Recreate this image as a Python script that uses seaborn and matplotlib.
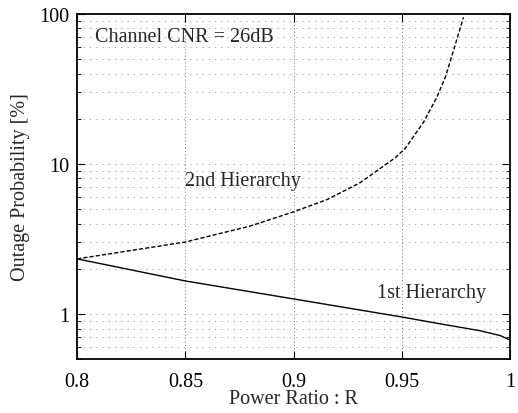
import numpy as np
import pandas as pd
import seaborn as sns
import matplotlib.pyplot as plt
from matplotlib.ticker import FixedLocator, NullFormatter

# values
ratio_1st = [0.80, 0.85, 0.90, 0.95, 0.9677, 0.986, 0.9954, 1.00]
outage_1st = [2.33, 1.66, 1.26, 0.955, 0.86, 0.774, 0.718, 0.67]

ratio_2nd = [0.80, 0.85, 0.88, 0.90, 0.9155, 0.9307, 0.9469,
             0.9515, 0.960, 0.9661, 0.970, 0.9738, 0.9784]
outage_2nd = [2.33, 3.02, 3.86, 4.8, 5.8, 7.5, 11.0,
              12.7, 19.0, 27.8, 37.8, 57.0, 95.0]

df = pd.concat([
    pd.DataFrame({"R": ratio_1st, "P": outage_1st, "h": "1st Hierarchy"}),
    pd.DataFrame({"R": ratio_2nd, "P": outage_2nd, "h": "2nd Hierarchy"}),
])

sns.set_style("ticks")
plt.rcParams['font.family'] = ['Liberation Serif', 'DejaVu Serif']

fig = plt.figure(figsize=(5.18, 4.14), dpi=100)
ax = fig.add_axes([0.149, 0.13, 0.836, 0.834])

sns.lineplot(data=df, x="R", y="P", style="h", color="black",
             dashes={"1st Hierarchy": "", "2nd Hierarchy": (3, 1.5)},
             linewidth=1.0, legend=False, ax=ax, sort=False)

ax.set_yscale("log")
ax.set_xlim(0.8, 1.0)
ax.set_ylim(0.5, 100)
ax.set_xticks([0.8, 0.85, 0.9, 0.95, 1.0])
ax.set_xticklabels(["0.8", "0.85", "0.9", "0.95", "1"])
ax.set_yticks([1, 10, 100])
ax.set_yticklabels(["1", "10", "100"])
ax.yaxis.set_minor_locator(FixedLocator([0.5, 0.6, 0.7, 0.8, 0.9] +
                                        [k for k in range(2, 10)] +
                                        [k * 10 for k in range(2, 10)]))
ax.yaxis.set_minor_formatter(NullFormatter())

ax.tick_params(which="both", direction="in", top=True, right=True,
               labelsize=14.5, colors="black")
ax.tick_params(which="major", length=6)
ax.tick_params(which="minor", length=3)
ax.tick_params(axis="x", pad=9)
ax.tick_params(axis="y", pad=6)

ax.grid(True, which="major", axis="x", linestyle=(0, (1, 2.5)), color="0.45", linewidth=0.7)
ax.grid(True, which="both", axis="y", linestyle=(0, (1.5, 6)), color="0.6", linewidth=0.6)

for s in ax.spines.values():
    s.set_linewidth(1.3)
    s.set_color("black")

ax.set_xlabel("Power Ratio : R", fontsize=14.5, labelpad=-1)
ax.set_ylabel("Outage Probability [%]", fontsize=14.5, labelpad=6)

ax.text(0.8083, 71, "Channel CNR = 26dB", fontsize=14.5, va="center")
ax.text(0.8499, 7.7, "2nd Hierarchy", fontsize=14.5, ha="left", va="center")
ax.text(0.9386, 1.40, "1st Hierarchy", fontsize=14.5, ha="left", va="center")

fig.savefig("out.png", dpi=100)
